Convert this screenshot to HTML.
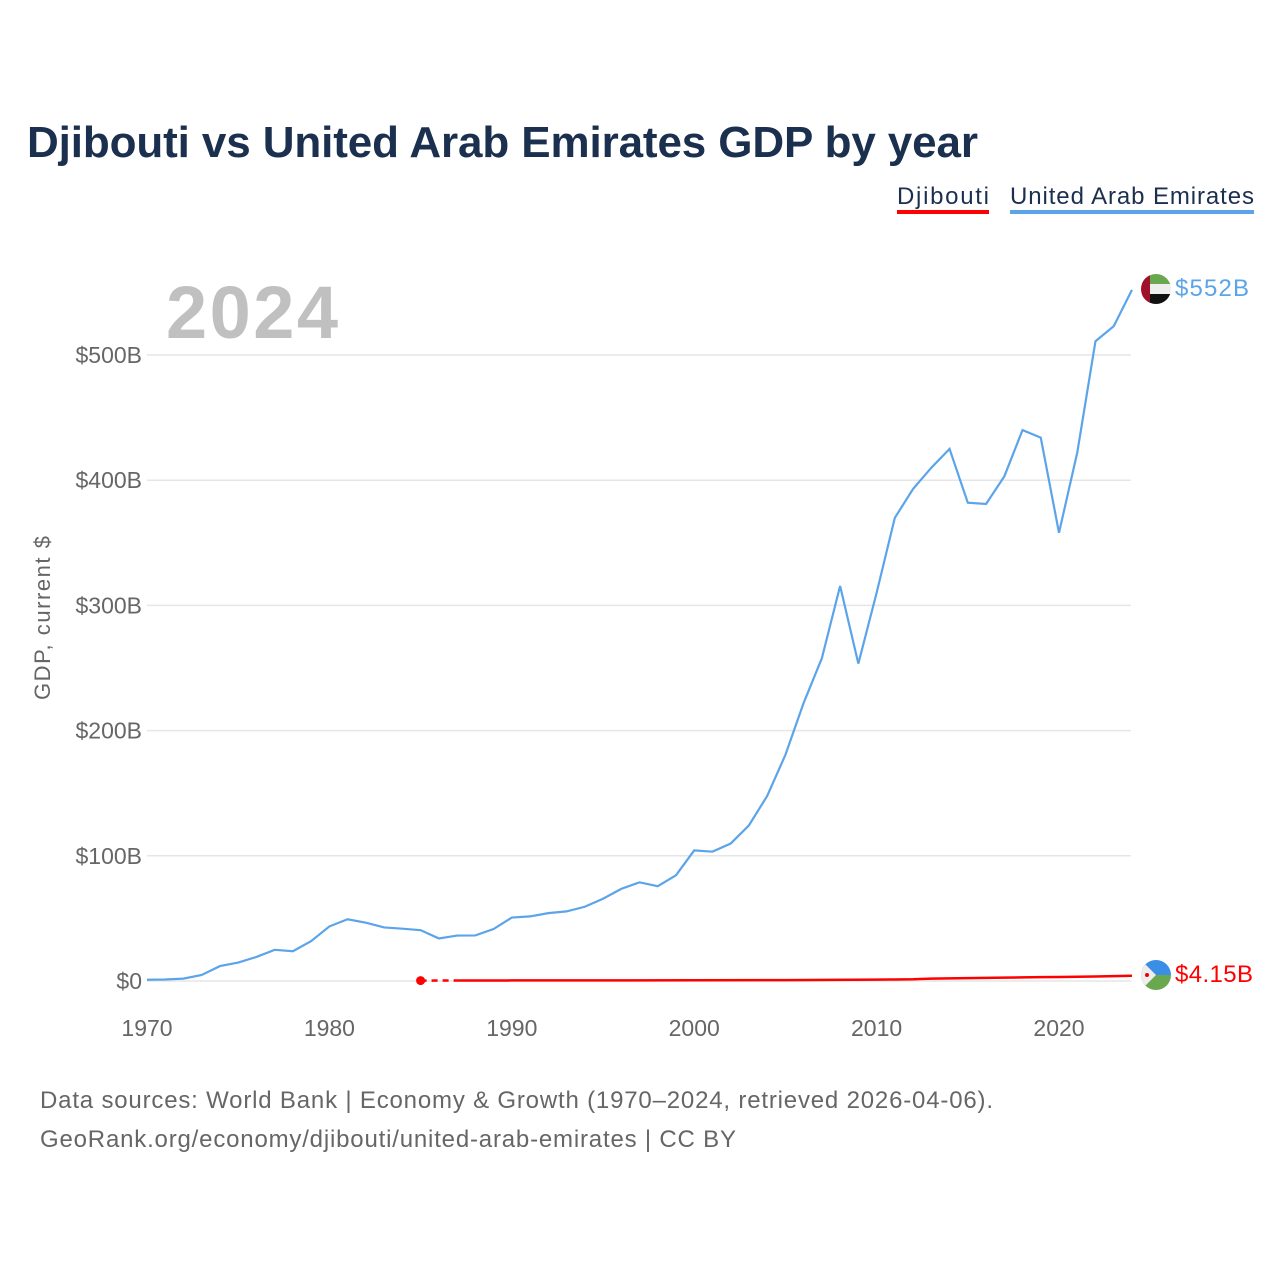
<!DOCTYPE html>
<html><head><meta charset="utf-8">
<style>
body{margin:0;background:#fff;font-family:"Liberation Sans",sans-serif;}
svg text{font-family:"Liberation Sans",sans-serif;}
</style></head>
<body>
<svg id="chart" width="1280" height="1280" viewBox="0 0 1280 1280" xmlns="http://www.w3.org/2000/svg">
<rect width="1280" height="1280" fill="#fff"/>
<text x="27" y="157" font-size="44" font-weight="bold" fill="#1b2f4e" textLength="951">Djibouti vs United Arab Emirates GDP by year</text>
<g>
<text x="897" y="204" font-size="24" fill="#1b2f4e" textLength="92">Djibouti</text>
<rect x="897" y="210" width="92" height="4" fill="#ff0000"/>
<text x="1010" y="204" font-size="24" fill="#1b2f4e" textLength="244">United Arab Emirates</text>
<rect x="1010" y="210" width="244" height="4" fill="#5ba4ea"/>
</g>
<text x="166" y="338" font-size="74" font-weight="bold" fill="#c0c0c0" textLength="172">2024</text>
<text transform="translate(50,618) rotate(-90)" text-anchor="middle" font-size="22" fill="#666" textLength="164">GDP, current $</text>
<g id="grid"></g><g id="yticks"></g><g id="xticks"></g><g id="series"></g>
<g>
<clipPath id="c1"><circle cx="1156" cy="289" r="15"/></clipPath>
<g clip-path="url(#c1)"><rect x="1141" y="274" width="30" height="10" fill="#6aa84f"/><rect x="1141" y="284" width="30" height="10" fill="#eee"/><rect x="1141" y="294" width="30" height="10" fill="#111"/><rect x="1141" y="274" width="9" height="30" fill="#a0102a"/></g>
</g>
<g>
<clipPath id="c2"><circle cx="1156" cy="975" r="15"/></clipPath>
<g clip-path="url(#c2)"><rect x="1141" y="960" width="30" height="15" fill="#3a8ee6"/><rect x="1141" y="975" width="30" height="15" fill="#6aa84f"/><polygon points="1141,960 1156,975 1141,990" fill="#eee"/><circle cx="1147" cy="975" r="2" fill="#e00"/></g>
</g>
<text x="1175" y="296" font-size="24" fill="#5ba4ea" textLength="74">$552B</text>
<text x="1175" y="982" font-size="24" fill="#ff0000" textLength="78">$4.15B</text>
<text x="40" y="1108" font-size="24" fill="#666" textLength="953">Data sources: World Bank | Economy &amp; Growth (1970–2024, retrieved 2026-04-06).</text>
<text x="40" y="1147" font-size="24" fill="#666" textLength="696">GeoRank.org/economy/djibouti/united-arab-emirates | CC BY</text>
</svg>
<script>
const uaeYears=[1970,1971,1972,1973,1974,1975,1976,1977,1978,1979,1980,1981,1982,1983,1984,1985,1986,1987,1988,1989,1990,1991,1992,1993,1994,1995,1996,1997,1998,1999,2000,2001,2002,2003,2004,2005,2006,2007,2008,2009,2010,2011,2012,2013,2014,2015,2016,2017,2018,2019,2020,2021,2022,2023,2024];
const uaeValues=[1,1.2,1.9,4.8,11.9,14.7,19.2,24.9,23.8,31.9,43.6,49.3,46.6,42.8,41.8,40.6,34,36.3,36.4,41.5,50.7,51.6,54.2,55.6,59.3,65.7,73.6,78.8,75.7,84.4,104.3,103.3,109.8,124.3,147.8,180.6,222.1,257.9,315.5,253.5,310,370,393,410,425,382,381,403,440,434,358,422,511,523,552];
const djiYears=[1985,1987,1990,1995,2000,2005,2010,2011,2012,2013,2014,2015,2016,2017,2018,2019,2020,2021,2022,2023,2024];
const djiValues=[0.34,0.37,0.45,0.5,0.55,0.71,1.13,1.24,1.35,1.9,2.1,2.3,2.5,2.7,2.9,3.1,3.2,3.4,3.6,3.9,4.15];
const yTicks=[0,100,200,300,400,500];
const yTickLabels=["$0","$100B","$200B","$300B","$400B","$500B"];
const xTicks=[1970,1980,1990,2000,2010,2020];
const NS="http://www.w3.org/2000/svg";
const xS=y=>147+(y-1970)*18.24;
const yS=v=>981-v*1.252;
function mk(tag,attrs,parent){const e=document.createElementNS(NS,tag);for(const k in attrs)e.setAttribute(k,attrs[k]);document.getElementById(parent).appendChild(e);return e;}
yTicks.forEach((t,i)=>{
 const l=mk('line',{x1:147,x2:1131,y1:yS(t),y2:yS(t),stroke:'#e6e6e6','stroke-width':1.5},'grid');
 
 
 const tx=mk('text',{x:142,y:yS(t)+8,'text-anchor':'end','font-size':23,fill:'#666'},'yticks');
 tx.textContent=yTickLabels[i];
 
 
});
xTicks.forEach(t=>{
 const tx=mk('text',{x:xS(t),y:1036,'text-anchor':'middle','font-size':23,fill:'#666'},'xticks');
 tx.textContent=t;
 
 
});
const up=mk('polyline',{points:uaeYears.map((y,i)=>xS(y)+','+yS(uaeValues[i])).join(' '),fill:'none',stroke:'#5ba4ea','stroke-width':2.2},'series');


const dd=mk('line',{x1:xS(djiYears[0]),y1:yS(djiValues[0]),x2:xS(djiYears[1]),y2:yS(djiValues[1]),stroke:'#ff0000','stroke-width':2.5,'stroke-dasharray':'6,5'},'series');


const dp=mk('polyline',{points:djiYears.slice(1).map((y,i)=>xS(y)+','+yS(djiValues[i+1])).join(' '),fill:'none',stroke:'#ff0000','stroke-width':2.5},'series');


const dc=mk('circle',{cx:xS(djiYears[0]),cy:yS(djiValues[0]),r:4.5,fill:'#ff0000'},'series');


</script>
</body></html>
